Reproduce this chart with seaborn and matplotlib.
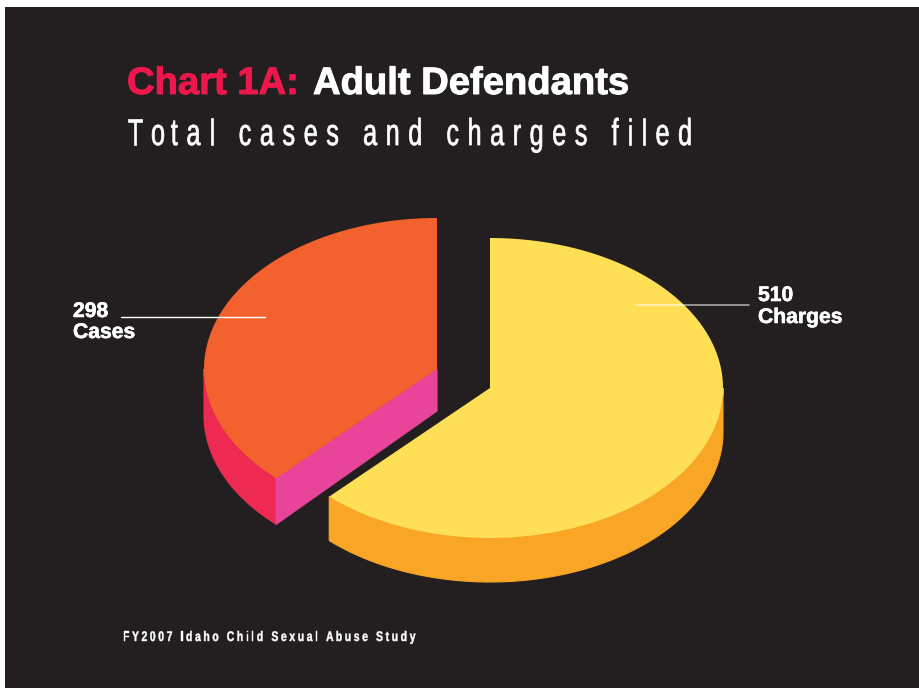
import numpy as np
import seaborn as sns
import matplotlib.pyplot as plt
import matplotlib.patheffects as pe
from matplotlib.colors import to_rgba
from matplotlib.text import Text
from matplotlib.textpath import TextPath
from matplotlib.transforms import Affine2D

labels = ['Cases', 'Charges']
values = [298, 510]

BG = '#231f20'
sns.set_theme(style='dark', rc={'axes.facecolor': BG, 'figure.facecolor': 'white'})
plt.rcParams['font.family'] = ['Liberation Sans', 'DejaVu Sans']

top_colors = sns.color_palette(['#f3612e', '#ffdf55'])
side_colors = sns.color_palette(['#ee2a52', '#f9a526'])
cut_color = '#e8459a'


class TrackedText(Text):
    # one text, drawn condensed (xscale) with extra letter spacing in pixels
    # no condensed font is installed so the glyphs get squeezed by hand
    def __init__(self, *args, tracking=0, xscale=1, stroke=0, **kwargs):
        super().__init__(*args, **kwargs)
        self.tracking = tracking
        self.xscale = xscale
        self.stroke = stroke

    def draw(self, renderer):
        s = self.get_text()
        fp = self.get_fontproperties()
        rgba = to_rgba(self.get_color())
        size = fp.get_size_in_points() * renderer.points_to_pixels(1)
        x0, y0 = self.get_transform().transform(self.get_position())
        base = renderer.get_text_width_height_descent('xx', fp, False)[0]
        gc = renderer.new_gc()
        gc.set_linewidth(self.stroke)
        gc.set_foreground(rgba)
        for i, ch in enumerate(s):
            if ch == ' ':
                continue
            w = renderer.get_text_width_height_descent('x' + s[:i] + 'x', fp, False)[0] - base
            path = TextPath((0, 0), ch, size=size, prop=fp)
            tr = Affine2D().scale(self.xscale, 1).translate(x0 + w * self.xscale + i * self.tracking, y0)
            renderer.draw_path(gc, path, tr, rgba)
        gc.restore()


def rim(cx, cy, rx, ry, thetas):
    a = np.radians(thetas)
    return cx + rx * np.cos(a), cy - ry * np.sin(a)


fig = plt.figure(figsize=(9.19, 6.88), dpi=100)
ax = fig.add_axes([5 / 919, 0, 914 / 919, 681 / 688])
ax.set_xlim(5, 919)
ax.set_ylim(688, 7)
ax.set_xticks([])
ax.set_yticks([])
sns.despine(ax=ax, left=True, bottom=True)

total = sum(values)
sweep_cases = values[0] / total * 360
sweep_charges = values[1] / total * 360
# the cut in the artwork sits a little off the true share
cut_nudge = 3.6

# charges slice, clockwise from 12 o'clock
cx, cy, rx, ry, depth = 490, 388, 233, 150, 44
end = 90 - sweep_charges + cut_nudge
xs, ys = rim(cx, cy, rx, ry, np.linspace(0, end, 200))
ax.fill(np.r_[xs, xs[::-1]], np.r_[ys, ys[::-1] + depth], color=side_colors[1], lw=0.8, zorder=2)
xt, yt = rim(cx, cy, rx, ry, np.linspace(90, end, 300))
ax.fill(np.r_[cx, xt], np.r_[cy, yt], color=top_colors[1], lw=0, zorder=3)

# cases slice, pulled out to the upper left
cx, cy, rx, ry, depth = 437, 369, 233, 151, 46
end = 90 + sweep_cases + cut_nudge
xs, ys = rim(cx, cy, rx, ry, np.linspace(180, end, 100))
ax.fill(np.r_[xs, xs[::-1]], np.r_[ys, ys[::-1] + depth], color=side_colors[0], lw=0.8, zorder=2)
xe, ye = rim(cx, cy, rx, ry, end)
ax.fill([cx, xe, xe, cx], [cy, ye, ye + depth, cy + 42], color=cut_color, lw=0.8, zorder=2)
xt, yt = rim(cx, cy, rx, ry, np.linspace(90, end, 300))
ax.fill(np.r_[cx, xt], np.r_[cy, yt], color=top_colors[0], lw=0, zorder=3)

# leader lines
sns.lineplot(x=[121, 265], y=[317, 317], color='white', lw=1, ax=ax, zorder=4)
sns.lineplot(x=[636, 749], y=[305, 305], color='white', alpha=0.6, lw=1.2, ax=ax, zorder=4)

thick = [pe.withStroke(linewidth=0.4, foreground='white')]
for x, y, s in [(73, 317, str(values[0])), (73, 338, labels[0]),
                (758, 301, str(values[1])), (758, 323, labels[1])]:
    ax.text(x, y, s, color='white', fontsize=15.2, fontweight='bold', va='baseline', path_effects=thick)

# titles
ax.text(127, 94, 'Chart 1A:', color='#ed174c', fontsize=27.5, fontweight='bold', va='baseline',
        path_effects=[pe.withStroke(linewidth=0.7, foreground='#ed174c')])
ax.text(313, 94, 'Adult Defendants', color='white', fontsize=27.5, fontweight='bold', va='baseline',
        path_effects=[pe.withStroke(linewidth=0.7, foreground='white')])
ax.add_artist(TrackedText(127, 145, 'Total cases and charges filed', color='white', fontsize=27,
                          tracking=8.6, xscale=0.67, stroke=0.5, va='baseline', ha='left',
                          transform=ax.transData))
ax.add_artist(TrackedText(123, 641, 'FY2007 Idaho Child Sexual Abuse Study', color='white', fontsize=10,
                          fontweight='bold', tracking=2.6, xscale=0.75, stroke=0.3, va='baseline',
                          ha='left', transform=ax.transData))

fig.savefig('out.png', dpi=100)
